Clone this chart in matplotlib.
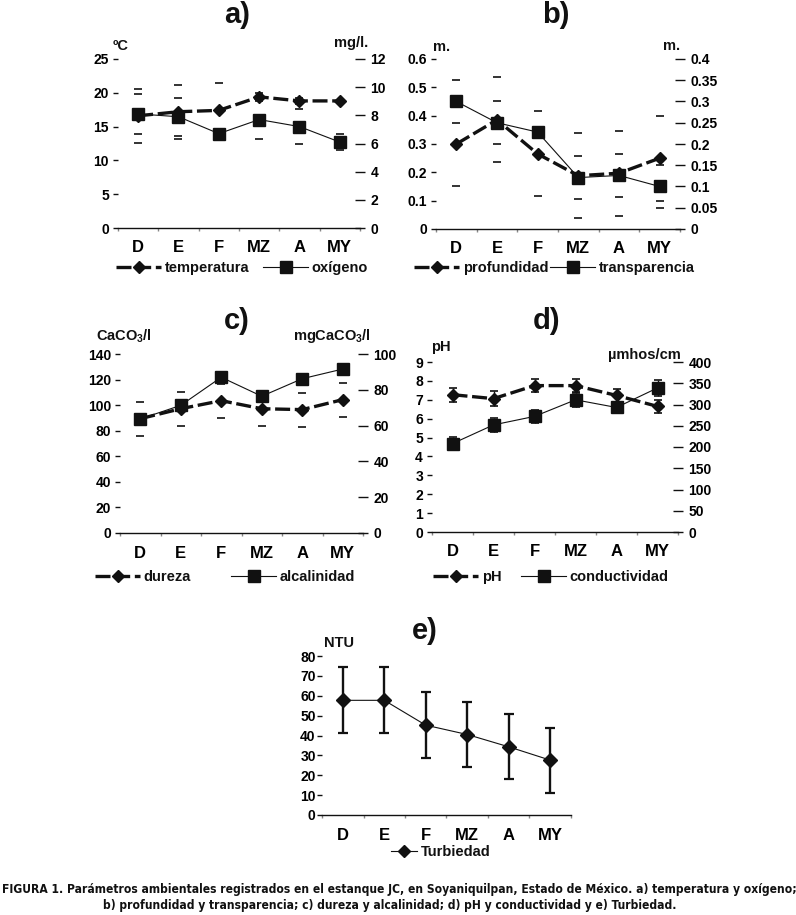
import numpy as np
import matplotlib
matplotlib.use('Agg')
import matplotlib.pyplot as plt
from matplotlib.lines import Line2D
from matplotlib import font_manager

W, H = 796, 915
INK = '#111111'

months = ['D', 'E', 'F', 'MZ', 'A', 'MY']

# a) temperatura (ºC) y oxígeno (mg/l)
temp = [16.6, 17.2, 17.4, 19.4, 18.8, 18.8]
temp_sd = [4.0, 4.0, 4.0, 0.5, 0.5, 0.2]
oxig = [8.1, 7.9, 6.7, 7.7, 7.2, 6.1]
oxig_sd = [1.4, 1.35, 0.3, 1.35, 1.25, 0.55]

# b) profundidad y transparencia (m)
prof = [0.30, 0.385, 0.265, 0.188, 0.197, 0.25]
prof_sd = [0.15, 0.15, 0.15, 0.15, 0.15, 0.15]
trans = [0.30, 0.25, 0.228, 0.121, 0.126, 0.10]
trans_sd = [0.05, 0.05, 0.01, 0.05, 0.05, 0.05]

# c) dureza y alcalinidad
dureza = [89.4, 97.2, 103.5, 97.2, 96.5, 104.3]
dureza_sd = [13.3, 13.3, 13.3, 13.3, 13.3, 13.3]
alcal = [63.7, 71.3, 87.0, 76.4, 86.2, 91.6]
alcal_sd = [1.5, 1.5, 1.5, 1.5, 1.5, 1.5]

# d) pH y conductividad
ph = [7.27, 7.06, 7.75, 7.75, 7.23, 6.65]
ph_sd = [0.38, 0.38, 0.35, 0.35, 0.35, 0.35]
cond = [208, 252, 272, 311, 293, 339]
cond_sd = [16, 16, 16, 16, 14, 18]

# e) turbiedad (NTU)
turb = [57.7, 57.7, 45.2, 40.5, 34.3, 27.6]
turb_sd = [16.6, 16.6, 16.6, 16.6, 16.3, 16.4]

plt.rcParams['font.family'] = ['Liberation Sans', 'DejaVu Sans']
plt.rcParams['font.weight'] = 'bold'
plt.rcParams['text.color'] = INK

fig = plt.figure(figsize=(W/100, H/100), dpi=100)
x = np.arange(len(months))

TICK_FS = 10
UNIT_FS = 10.5
TITLE_FS = 21

DASH_KW = dict(color=INK, lw=2.4, dashes=(4.5, 1.4), marker='D', ms=6.5, mfc=INK, mec=INK)
SOLID_KW = dict(color=INK, lw=0.8, marker='s', ms=9, mfc=INK, mec=INK)


def px_axes(l, r, top, bot):
    ax = fig.add_axes([l/W, 1-bot/H, (r-l)/W, (bot-top)/H])
    for s in ['left', 'right', 'top']:
        ax.spines[s].set_visible(False)
    ax.spines['bottom'].set_color(INK)
    ax.spines['bottom'].set_linewidth(1.0)
    ax.set_xlim(-0.5, 5.5)
    ax.set_xticks(x)
    ax.set_xticklabels(months, fontsize=12, fontweight='bold')
    ax.tick_params(axis='x', which='major', length=0, pad=9)
    ax.set_xticks(np.arange(-0.5, 6), minor=True)
    ax.tick_params(axis='x', which='minor', length=2, width=1, color='#888888', direction='out')
    ax.tick_params(axis='y', direction='out', length=3.5, width=1, color=INK, labelsize=TICK_FS, pad=3)
    for t in ax.get_yticklabels():
        t.set_fontweight('bold')
    return ax


def right_axis(ax, lim, ticks, labels=None):
    ax2 = ax.twinx()
    for s in ['left', 'right', 'top', 'bottom']:
        ax2.spines[s].set_visible(False)
    ax2.set_ylim(*lim)
    ax2.set_yticks(ticks)
    if labels is not None:
        ax2.set_yticklabels(labels)
    ax2.tick_params(axis='y', direction='inout', length=7, width=1, color=INK, labelsize=TICK_FS, pad=4)
    for t in ax2.get_yticklabels():
        t.set_fontweight('bold')
    return ax2


def caps(ax, y, sd):
    y = np.array(y)
    sd = np.array(sd)
    ax.plot(x, y + sd, ls='none', marker='_', ms=6, mew=1.2, color=INK)
    ax.plot(x, y - sd, ls='none', marker='_', ms=6, mew=1.2, color=INK)


def legend_at(handle, label, xp, yp, hl=3.1):
    fig.legend([handle], [label], loc='center left', bbox_to_anchor=(xp/W, 1-yp/H),
               frameon=False, handlelength=hl, handletextpad=0.25, borderpad=0,
               borderaxespad=0, prop={'size': 10.5, 'weight': 'bold'})


def unit(xp, yp, s, ha='left'):
    fig.text(xp/W, 1-yp/H, s, fontsize=UNIT_FS, fontweight='bold', ha=ha, va='center')


def title(xp, yp, s):
    fig.text(xp/W, 1-yp/H, s, fontsize=TITLE_FS, fontweight='bold', ha='center', va='center')


dash_h = Line2D([], [], **DASH_KW)
solid_h = Line2D([], [], **SOLID_KW)

# ---- a) ----
ax = px_axes(118, 360, 59, 228)
ax.set_ylim(0, 25)
ax.set_yticks(range(0, 26, 5))
ax2 = right_axis(ax, (0, 12), range(0, 13, 2))
caps(ax, temp, temp_sd)
caps(ax2, oxig, oxig_sd)
ax.plot(x, temp, **DASH_KW)
ax2.plot(x, oxig, **SOLID_KW)
title(237, 15, 'a)')
unit(113, 46, 'ºC')
unit(368, 43, 'mg/l.', ha='right')
legend_at(dash_h, 'temperatura', 116, 268)
legend_at(solid_h, 'oxígeno', 263, 268)

# ---- b) ----
ax = px_axes(436, 680, 59, 229)
ax.set_ylim(0, 0.6)
ax.set_yticks(np.arange(0, 0.61, 0.1))
ax.set_yticklabels(['0', '0.1', '0.2', '0.3', '0.4', '0.5', '0.6'])
ax2 = right_axis(ax, (0, 0.4), np.arange(0, 0.41, 0.05),
                 ['0', '0.05', '0.1', '0.15', '0.2', '0.25', '0.3', '0.35', '0.4'])
caps(ax, prof, prof_sd)
caps(ax2, trans, trans_sd)
ax.plot(x, prof, **DASH_KW)
ax2.plot(x, trans, **SOLID_KW)
title(556, 15, 'b)')
unit(433, 47, 'm.')
unit(680, 46, 'm.', ha='right')
legend_at(dash_h, 'profundidad', 414, 268)
legend_at(solid_h, 'transparencia', 550, 268)

# ---- c) ----
ax = px_axes(120, 363, 354, 533)
ax.set_ylim(0, 140)
ax.set_yticks(range(0, 141, 20))
ax2 = right_axis(ax, (0, 100), range(0, 101, 20))
caps(ax, dureza, dureza_sd)
caps(ax2, alcal, alcal_sd)
ax.plot(x, dureza, **DASH_KW)
ax2.plot(x, alcal, **SOLID_KW)
title(237, 321, 'c)')
unit(96, 336, 'CaCO$_{\\mathregular{3}}$/l')
unit(371, 336, 'mgCaCO$_{\\mathregular{3}}$/l', ha='right')
legend_at(dash_h, 'dureza', 95, 577)
legend_at(solid_h, 'alcalinidad', 231, 577)

# ---- d) ----
ax = px_axes(432, 678, 362, 532)
ax.set_ylim(0, 9)
ax.set_yticks(range(0, 10))
ax2 = right_axis(ax, (0, 400), range(0, 401, 50))
ax.errorbar(x, ph, yerr=ph_sd, fmt='none', ecolor=INK, elinewidth=1, capsize=3, capthick=1.2)
ax2.errorbar(x, cond, yerr=cond_sd, fmt='none', ecolor=INK, elinewidth=1, capsize=3, capthick=1.2)
ax.plot(x, ph, **DASH_KW)
ax2.plot(x, cond, **SOLID_KW)
title(547, 321, 'd)')
unit(431, 347, 'pH')
unit(681, 355, 'µmhos/cm', ha='right')
legend_at(dash_h, 'pH', 433, 577)
legend_at(solid_h, 'conductividad', 521, 577)

# ---- e) ----
ax = px_axes(322, 571, 656, 815)
ax.set_ylim(0, 80)
ax.set_yticks(range(0, 81, 10))
ax.tick_params(axis='y', pad=1)
ax.errorbar(x, turb, yerr=turb_sd, fmt='none', ecolor=INK, elinewidth=1.7, capsize=3.5, capthick=1.6)
ax.plot(x, turb, color=INK, lw=0.8, marker='D', ms=7, mfc=INK, mec=INK)
title(425, 631, 'e)')
unit(324, 643, 'NTU')
legend_at(Line2D([], [], color=INK, lw=0.8, marker='D', ms=6.5, mfc=INK, mec=INK),
          'Turbiedad', 391, 852, hl=1.8)

# ---- pie de figura ----
names = {f.name for f in font_manager.fontManager.ttflist}
cond_fonts = {f.name for f in font_manager.fontManager.ttflist
              if 'condensed' in str(f.stretch) or 'Narrow' in f.name}
if 'Liberation Sans Narrow' in names:
    cap_kw = dict(family=['Liberation Sans Narrow'], fontsize=9.5)
elif any(n == 'DejaVu Sans' for n in cond_fonts):
    cap_kw = dict(family=['DejaVu Sans'], stretch='condensed', fontsize=8.62)
else:
    cap_kw = dict(family=['Liberation Sans'], fontsize=9.1)

fig.text(2/W, 1-890/H,
         'FIGURA 1. Parámetros ambientales registrados en el estanque JC, en Soyaniquilpan, '
         'Estado de México. a) temperatura y oxígeno;',
         fontweight='bold', ha='left', va='center', **cap_kw)
fig.text(103/W, 1-905/H,
         'b) profundidad y transparencia; c) dureza y alcalinidad; d) pH y conductividad y e) Turbiedad.',
         fontweight='bold', ha='left', va='center', **cap_kw)

fig.savefig('out.png', dpi=100, facecolor='white')
